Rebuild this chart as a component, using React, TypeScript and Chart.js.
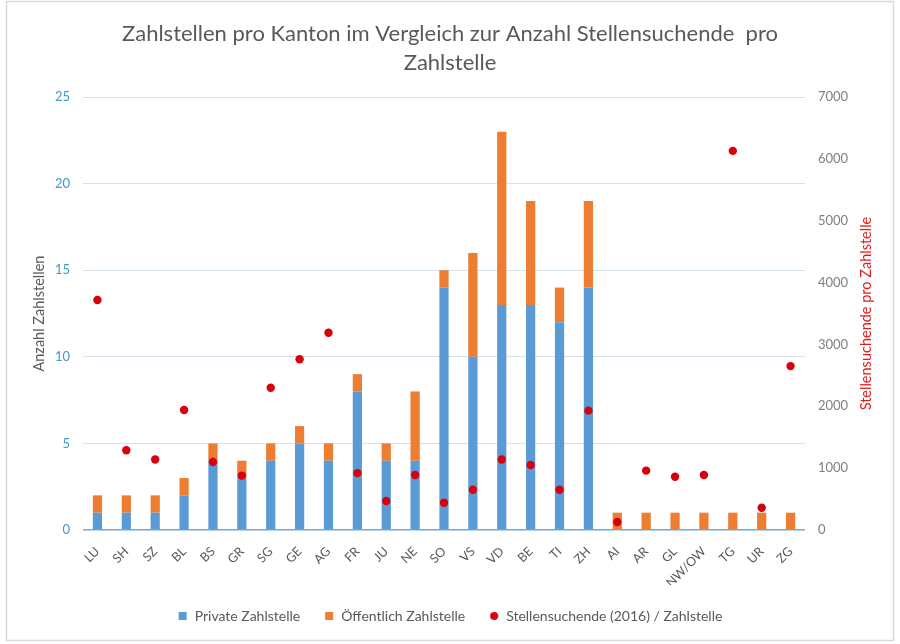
import React, { useEffect, useRef } from "react";
import { Chart, registerables } from "chart.js";

Chart.register(...registerables);

const cantons = ["LU","SH","SZ","BL","BS","GR","SG","GE","AG","FR","JU","NE","SO","VS","VD","BE","TI","ZH","AI","AR","GL","NW/OW","TG","UR","ZG"];
const privateZ = [1,1,1,2,4,3,4,5,4,8,4,4,14,10,13,13,12,14,0,0,0,0,0,0,0];
const publicZ = [1,1,1,1,1,1,1,1,1,1,1,4,1,6,10,6,2,5,1,1,1,1,1,1,1];
const seekersPerZ = [3720,1290,1140,1940,1100,880,2300,2760,3190,920,470,890,440,650,1140,1050,650,1930,130,960,860,890,6130,360,2650];
const leftTicks = [0,5,10,15,20,25];
const rightTicks = [0,1000,2000,3000,4000,5000,6000,7000];

const FONT = "Lato, 'Open Sans', sans-serif";
const BLUE = "#5B9BD5";
const ORANGE = "#ED7D31";
const RED = "#D9000D";
const RIGHT_TITLE = "Stellensuchende pro Zahlstelle";

function marker(kind: string, color: string) {
  const c = document.createElement("canvas");
  c.width = 10;
  c.height = 10;
  const x = c.getContext("2d") as CanvasRenderingContext2D;
  x.fillStyle = color;
  if (kind === "rect") {
    x.fillRect(1, 1, 8, 8);
  } else {
    x.beginPath();
    x.arc(5, 5, 4, 0, Math.PI * 2);
    x.fill();
  }
  return c;
}

const frame = {
  id: "frame",
  beforeDraw(chart: any) {
    const ctx = chart.ctx;
    ctx.save();
    ctx.fillStyle = "#ffffff";
    ctx.fillRect(0, 0, chart.width, chart.height);
    ctx.strokeStyle = "#d9d9d9";
    ctx.lineWidth = 1.5;
    ctx.strokeRect(6.5, 1.5, 887, 639);
    ctx.restore();
  },
  afterDraw(chart: any) {
    const ctx = chart.ctx;
    const a = chart.chartArea;
    ctx.save();
    ctx.translate(866, (a.top + a.bottom) / 2);
    ctx.rotate(-Math.PI / 2);
    ctx.fillStyle = "#E0201E";
    ctx.font = "14.5px " + FONT;
    ctx.textAlign = "center";
    ctx.textBaseline = "middle";
    ctx.fillText(RIGHT_TITLE, 0, 0);
    ctx.restore();
  },
};

export default function App() {
  const ref = useRef<HTMLCanvasElement>(null);
  useEffect(() => {
    const markers = [marker("rect", BLUE), marker("rect", ORANGE), marker("circle", RED)];
    const chart = new Chart(ref.current as HTMLCanvasElement, {
      type: "bar",
      data: {
        labels: cantons,
        datasets: [
          {
            label: "Private Zahlstelle",
            data: privateZ,
            backgroundColor: BLUE,
            yAxisID: "y",
            barPercentage: 0.32,
            categoryPercentage: 1,
            order: 0,
          } as any,
          {
            label: "Öffentlich Zahlstelle",
            data: publicZ,
            backgroundColor: ORANGE,
            yAxisID: "y",
            barPercentage: 0.32,
            categoryPercentage: 1,
            order: 0,
          } as any,
          {
            type: "line",
            label: "Stellensuchende (2016) / Zahlstelle",
            data: seekersPerZ,
            yAxisID: "y1",
            showLine: false,
            pointRadius: 4.2,
            pointBorderWidth: 0,
            pointBackgroundColor: RED,
            pointBorderColor: RED,
            backgroundColor: RED,
            borderColor: RED,
            order: -1,
          } as any,
        ],
      },
      options: {
        animation: false,
        responsive: false,
        layout: { padding: { left: 0, right: 0, top: 0, bottom: 11 } },
        plugins: {
          title: {
            display: true,
            text: ["Zahlstellen pro Kanton im Vergleich zur Anzahl Stellensuchende  pro", "Zahlstelle"],
            color: "#595959",
            font: { family: FONT, size: 22, weight: "normal", lineHeight: 1.32 },
            padding: { top: 19, bottom: 20 },
          },
          legend: {
            position: "bottom",
            labels: {
              usePointStyle: true,
              boxWidth: 10,
              boxHeight: 10,
              padding: 24,
              color: "#595959",
              font: { family: FONT, size: 14 },
              generateLabels: (ch: any) =>
                ch.data.datasets.map((d: any, i: number) => ({
                  text: d.label,
                  pointStyle: markers[i],
                  fillStyle: "transparent",
                  strokeStyle: "transparent",
                  lineWidth: 0,
                  fontColor: "#595959",
                  hidden: false,
                  datasetIndex: i,
                })),
            },
          },
          tooltip: { enabled: false },
        },
        scales: {
          x: {
            stacked: true,
            grid: { display: false },
            border: { display: false },
            ticks: {
              color: "#595959",
              font: { family: FONT, size: 12.5 },
              minRotation: 45,
              maxRotation: 45,
              autoSkip: false,
              padding: 6,
            },
            afterFit: (s: any) => { s.height = 55; },
          },
          y: {
            stacked: true,
            position: "left",
            min: 0,
            max: 25,
            afterBuildTicks: (s: any) => { s.ticks = leftTicks.map((v) => ({ value: v })); },
            grid: {
              drawTicks: false,
              color: (c: any) => (c.tick && c.tick.value === 0 ? "#6FA8DC" : "#D5E1EC"),
              lineWidth: (c: any) => (c.tick && c.tick.value === 0 ? 1.5 : 1),
            },
            border: { display: false },
            ticks: { color: "#3D9AC9", font: { family: FONT, size: 13 }, padding: 13 },
            title: {
              display: true,
              text: "Anzahl Zahlstellen",
              color: "#595959",
              font: { family: FONT, size: 14.5 },
              padding: { top: 31, bottom: 0 },
            },
            afterFit: (s: any) => { s.width = 83; },
          },
          y1: {
            position: "right",
            min: 0,
            max: 7000,
            afterBuildTicks: (s: any) => { s.ticks = rightTicks.map((v) => ({ value: v })); },
            grid: { display: false, drawTicks: false },
            border: { display: false },
            ticks: {
              color: "#7F7F7F",
              font: { family: FONT, size: 13 },
              padding: 13,
              callback: (v: any) => String(v),
            },
            afterFit: (s: any) => { s.width = 95; },
          },
        },
      },
      plugins: [frame],
    } as any);
    return () => chart.destroy();
  }, []);
  return (
    <div style={{ position: "absolute", left: 0, top: 0, width: 900, height: 644 }}>
      <canvas ref={ref} width={900} height={644} />
    </div>
  );
}
